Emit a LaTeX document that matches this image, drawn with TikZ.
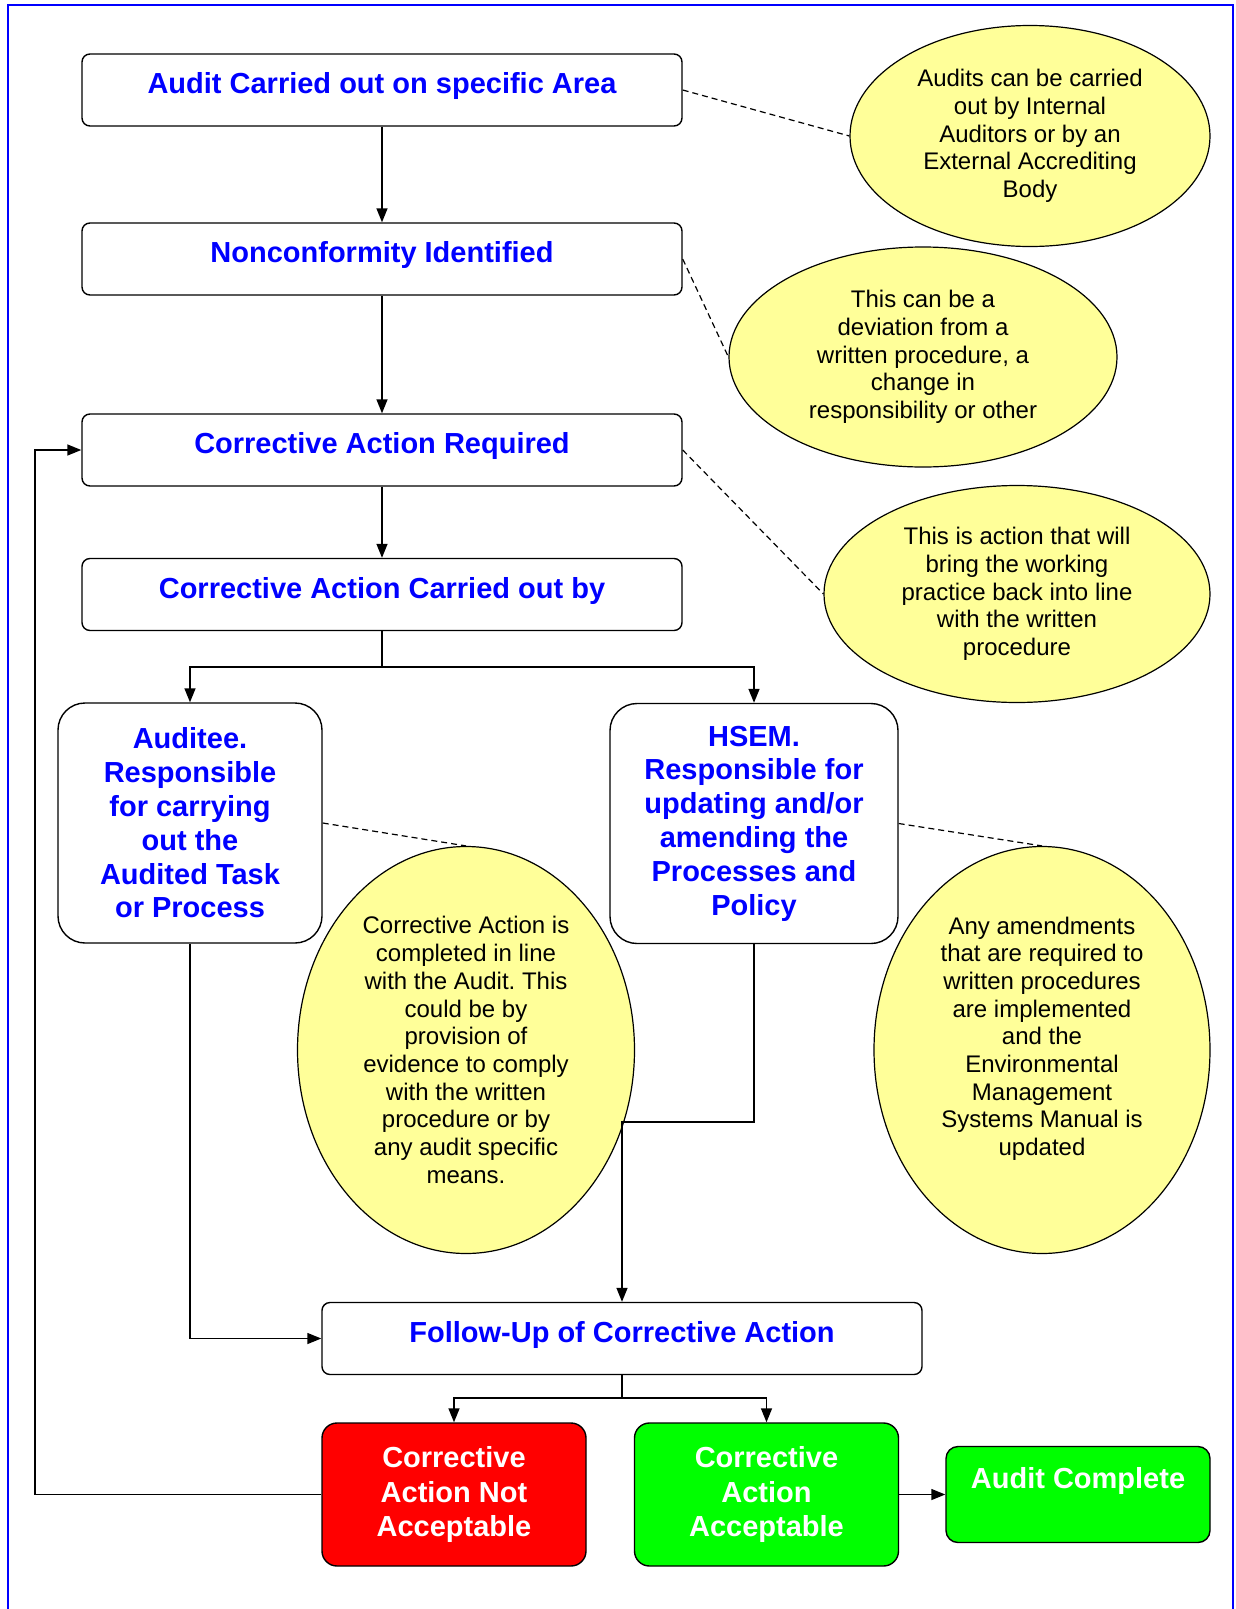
\documentclass[tikz,border=0pt]{standalone}
\usepackage{fontspec}
\setmainfont{Liberation Sans}
\usetikzlibrary{arrows.meta,shapes.geometric}
\frenchspacing

\definecolor{notefill}{RGB}{255,255,153}

\begin{document}
\begin{tikzpicture}[x=1pt,y=-1pt,->,>={Triangle[length=14pt,width=11pt]},line width=1.4pt,
	stage/.style={rectangle,rounded corners=8pt,draw,fill=white,inner sep=0pt,minimum width=600pt,minimum height=72pt,text=blue,font=\fontsize{29}{34}\selectfont\bfseries,text height=21pt,text depth=14pt},
	who/.style={rectangle,rounded corners=27pt,draw,fill=white,inner sep=0pt,minimum height=240pt,text=blue,align=center,font=\fontsize{29}{33.8}\selectfont\bfseries},
	result/.style={rectangle,rounded corners=15pt,draw,inner sep=0pt,minimum width=264pt,minimum height=143pt,text=white,align=center,font=\fontsize{29}{34.4}\selectfont\bfseries},
	note/.style={ellipse,draw,fill=notefill,line width=1.2pt,inner sep=0pt,align=center,font=\fontsize{24}{27.7}\selectfont},
	remark/.style={-,dash pattern=on 6pt off 4pt,line width=1.2pt}]
	\useasboundingbox (0,0) rectangle (1236,1609);
	\draw[-,blue,line width=2pt] (8,1609) -- (8,5) -- (1233,5) -- (1233,1609);

	\node[note,minimum width=360pt,minimum height=221pt]	(note1)	at	(1030,136)	{Audits can be carried\\out by Internal\\Auditors or by an\\External Accrediting\\Body};
	\node[note,minimum width=388pt,minimum height=220pt]	(note2)	at	(923,357)	{This can be a\\deviation from a\\written procedure, a\\change in\\responsibility or other};
	\node[note,minimum width=386pt,minimum height=217pt]	(note3)	at	(1017,594)	{This is action that will\\bring the working\\practice back into line\\with the written\\procedure};
	\node[note,minimum width=337pt,minimum height=407pt]	(note4)	at	(466,1050)	{Corrective Action is\\completed in line\\with the Audit. This\\could be by\\provision of\\evidence to comply\\with the written\\procedure or by\\any audit specific\\means.};
	\node[note,minimum width=336pt,minimum height=407pt]	(note5)	at	(1042,1050)	{Any amendments\\that are required to\\written procedures\\are implemented\\and the\\Environmental\\Management\\Systems Manual is\\updated\\\mbox{}};

	\node[stage]	(audit)		at	(382,90)		{Audit Carried out on specific Area};
	\node[stage]	(nonconf)	at	(382,259)		{Nonconformity Identified};
	\node[stage]	(required)	at	(382,450)		{Corrective Action Required};
	\node[stage]	(carried)	at	(382,594.5)		{Corrective Action Carried out by};
	\node[who,minimum width=264pt]	(auditee)	at	(190,823)	{Auditee.\\Responsible\\for carrying\\out the\\Audited Task\\or Process};
	\node[who,minimum width=288pt]	(hsem)		at	(754,823.5)	{HSEM.\\Responsible for\\updating and/or\\amending the\\Processes and\\Policy};
	\node[stage]	(followup)	at	(622,1338.5)	{Follow-Up of Corrective Action};
	\node[result,fill=red]		(notok)		at	(454,1494.5)	{Corrective\\Action Not\\Acceptable};
	\node[result,fill=green]	(accepted)	at	(766.5,1494.5)	{Corrective\\Action\\Acceptable};
	\node[result,fill=green,rounded corners=12pt,minimum height=96pt,text height=21pt,text depth=34pt]	(complete)	at	(1078,1494.5)	{Audit Complete};

	\coordinate	(fork)	at	(382,667);
	\coordinate	(join)	at	(622,1122);
	\coordinate	(fork2)	at	(622,1398);
	\coordinate	(back)	at	(35,1494.5);

	\draw[remark]	(audit.east)	--	(note1.west);
	\draw[remark]	(nonconf.east)	--	(note2.west);
	\draw[remark]	(required.east)	--	(note3.west);
	\draw[remark]	(auditee.east)	--	(note4.north);
	\draw[remark]	(hsem.east)		--	(note5.north);

	\path	(audit)		edge	(nonconf);
	\path	(nonconf)	edge	(required);
	\path	(required)	edge	(carried);
	\draw	(carried.south) -- (fork) -| (auditee.north);
	\draw	(fork) -| (hsem.north);
	\draw	(auditee.south) |- (followup.west);
	\draw	(hsem.south) |- (join) -- (followup.north);
	\draw	(followup.south) -- (fork2) -| (notok.north);
	\draw	(fork2) -| (accepted.north);
	\draw	(notok.west) -- (back) |- (required.west);
	\path	(accepted)	edge	(complete);
\end{tikzpicture}
\end{document}
